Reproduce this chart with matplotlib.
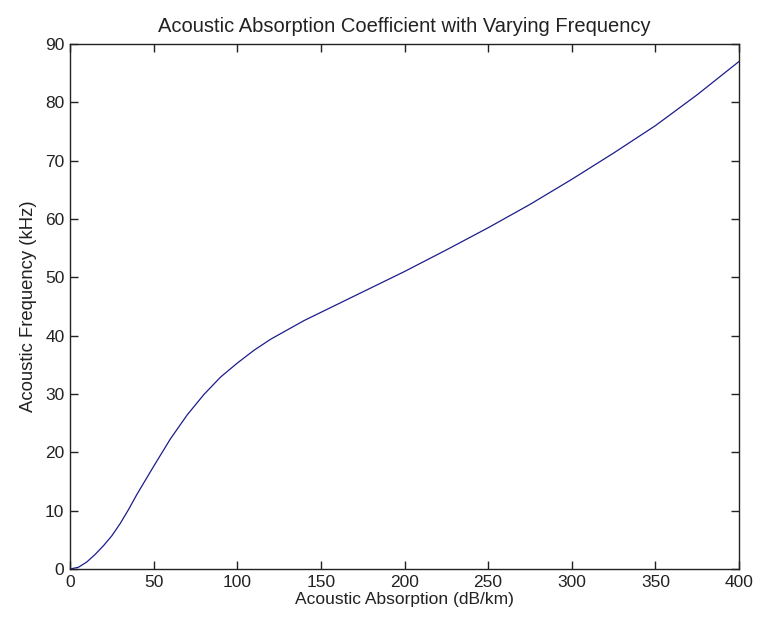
import matplotlib.pyplot as plt

# absorption (dB/km) vs frequency (kHz)
absorption = [0, 5, 10, 15, 20, 25, 30, 35, 40, 45, 50, 60, 70, 80, 90, 100,
              110, 120, 130, 140, 150, 160, 180, 200, 225, 250, 275, 300,
              325, 350, 375, 400]
frequency = [0, 0.3, 1.2, 2.5, 4.0, 5.7, 7.8, 10.2, 12.8, 15.2, 17.6, 22.3,
             26.4, 29.9, 32.9, 35.3, 37.5, 39.4, 41.0, 42.6, 44.0, 45.4,
             48.2, 51.0, 54.7, 58.5, 62.5, 66.8, 71.3, 76.0, 81.3, 87.0]

x_ticks = [0, 50, 100, 150, 200, 250, 300, 350, 400]
y_ticks = [0, 10, 20, 30, 40, 50, 60, 70, 80, 90]

plt.rcParams['font.family'] = ['Liberation Sans', 'DejaVu Sans']

fig = plt.figure(figsize=(7.57, 6.26), dpi=100)
ax = fig.add_axes([0.0925, 0.091, 0.8837, 0.8387])

ax.plot(absorption, frequency, color="#1c1c8c", linewidth=0.9)

ax.set_xlim(0, 400)
ax.set_ylim(0, 90)
ax.set_xticks(x_ticks)
ax.set_yticks(y_ticks)
ax.tick_params(direction="in", length=6, width=1, labelsize=12.5,
               top=True, right=True, colors="#222222", pad=4)
for s in ax.spines.values():
    s.set_linewidth(1)
    s.set_color("#222222")

ax.set_title("Acoustic Absorption Coefficient with Varying Frequency",
             fontsize=14.5, pad=9, color="#222222")
ax.set_xlabel("Acoustic Absorption (dB/km)", fontsize=12.5, labelpad=2,
              color="#222222")
ax.set_ylabel("Acoustic Frequency (kHz)", fontsize=13.3, labelpad=6,
              color="#222222")

fig.savefig("out.png", dpi=100)
